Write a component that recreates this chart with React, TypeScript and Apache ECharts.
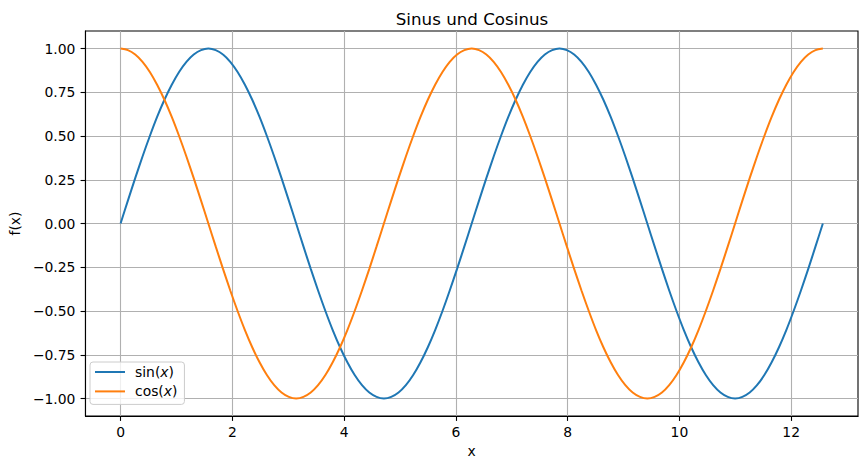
import { useEffect, useRef } from "react";
import * as echarts from "echarts";

// sample positions (0 .. 4π)
const xs = [
  0.0, 0.131, 0.262, 0.393, 0.524, 0.654, 0.785, 0.916, 1.047, 1.178, 1.309, 1.44, 1.571,
  1.702, 1.833, 1.963, 2.094, 2.225, 2.356, 2.487, 2.618, 2.749, 2.88, 3.011, 3.142,
  3.272, 3.403, 3.534, 3.665, 3.796, 3.927, 4.058, 4.189, 4.32, 4.451, 4.581, 4.712,
  4.843, 4.974, 5.105, 5.236, 5.367, 5.498, 5.629, 5.76, 5.89, 6.021, 6.152, 6.283,
  6.414, 6.545, 6.676, 6.807, 6.938, 7.069, 7.199, 7.33, 7.461, 7.592, 7.723, 7.854,
  7.985, 8.116, 8.247, 8.378, 8.508, 8.639, 8.77, 8.901, 9.032, 9.163, 9.294, 9.425,
  9.556, 9.687, 9.817, 9.948, 10.079, 10.21, 10.341, 10.472, 10.603, 10.734, 10.865, 10.996,
  11.126, 11.257, 11.388, 11.519, 11.65, 11.781, 11.912, 12.043, 12.174, 12.305, 12.435, 12.566,
];

const sinValues = [
  0, 0.131, 0.259, 0.383, 0.5, 0.609, 0.707, 0.793, 0.866, 0.924, 0.966, 0.991, 1,
  0.991, 0.966, 0.924, 0.866, 0.793, 0.707, 0.609, 0.5, 0.383, 0.259, 0.131, 0,
  -0.131, -0.259, -0.383, -0.5, -0.609, -0.707, -0.793, -0.866, -0.924, -0.966, -0.991, -1,
  -0.991, -0.966, -0.924, -0.866, -0.793, -0.707, -0.609, -0.5, -0.383, -0.259, -0.131, 0,
  0.131, 0.259, 0.383, 0.5, 0.609, 0.707, 0.793, 0.866, 0.924, 0.966, 0.991, 1,
  0.991, 0.966, 0.924, 0.866, 0.793, 0.707, 0.609, 0.5, 0.383, 0.259, 0.131, 0,
  -0.131, -0.259, -0.383, -0.5, -0.609, -0.707, -0.793, -0.866, -0.924, -0.966, -0.991, -1,
  -0.991, -0.966, -0.924, -0.866, -0.793, -0.707, -0.609, -0.5, -0.383, -0.259, -0.131, 0,
];

const cosValues = [
  1, 0.991, 0.966, 0.924, 0.866, 0.793, 0.707, 0.609, 0.5, 0.383, 0.259, 0.131, 0,
  -0.131, -0.259, -0.383, -0.5, -0.609, -0.707, -0.793, -0.866, -0.924, -0.966, -0.991, -1,
  -0.991, -0.966, -0.924, -0.866, -0.793, -0.707, -0.609, -0.5, -0.383, -0.259, -0.131, 0,
  0.131, 0.259, 0.383, 0.5, 0.609, 0.707, 0.793, 0.866, 0.924, 0.966, 0.991, 1,
  0.991, 0.966, 0.924, 0.866, 0.793, 0.707, 0.609, 0.5, 0.383, 0.259, 0.131, 0,
  -0.131, -0.259, -0.383, -0.5, -0.609, -0.707, -0.793, -0.866, -0.924, -0.966, -0.991, -1,
  -0.991, -0.966, -0.924, -0.866, -0.793, -0.707, -0.609, -0.5, -0.383, -0.259, -0.131, 0,
  0.131, 0.259, 0.383, 0.5, 0.609, 0.707, 0.793, 0.866, 0.924, 0.966, 0.991, 1,
];

const xTicks = [0, 2, 4, 6, 8, 10, 12];
const yTicks = [-1, -0.75, -0.5, -0.25, 0, 0.25, 0.5, 0.75, 1];

const FONT = "DejaVu Sans";
const FS = 13.9;

export default function App() {
  const chartRef = useRef<HTMLDivElement>(null);

  useEffect(() => {
    if (!chartRef.current) return;
    const chart = echarts.init(chartRef.current, null, { renderer: "svg" });

    const axisCommon = {
      axisLine: { show: true, onZero: false, lineStyle: { color: "#000", width: 1.1 } },
      axisTick: { show: true, inside: false, length: 4.9, lineStyle: { color: "#000", width: 1.1 } },
      splitLine: { show: true, lineStyle: { color: "#b0b0b0", width: 1.1 } },
      nameTextStyle: { color: "#000", fontFamily: FONT, fontSize: FS },
    };

    chart.setOption({
      animation: false,
      backgroundColor: "#fff",
      title: {
        text: "Sinus und Cosinus",
        left: 467,
        top: 5,
        textAlign: "center",
        textStyle: { color: "#000", fontFamily: FONT, fontSize: 16.7, fontWeight: "normal" },
      },
      grid: {
        left: 83,
        top: 31,
        width: 775,
        height: 385,
        show: true,
        borderColor: "#000",
        borderWidth: 1.1,
        backgroundColor: "transparent",
      },
      legend: {
        orient: "vertical",
        left: 90,
        top: 362,
        padding: [3, 7, 6, 4],
        itemWidth: 30,
        itemHeight: 16,
        itemGap: 5.4,
        backgroundColor: "rgba(255,255,255,0.8)",
        borderColor: "#cccccc",
        borderWidth: 1,
        borderRadius: 3,
        itemStyle: { opacity: 0 },
        formatter: (name: string) => `{n|${name}(}{i|x}{n|)}`,
        textStyle: {
          color: "#000",
          fontFamily: FONT,
          fontSize: FS,
          padding: [0, 0, 0, 5],
          rich: {
            n: { fontFamily: FONT, fontSize: FS, color: "#000", lineHeight: 16 },
            i: { fontFamily: FONT, fontSize: FS, fontStyle: "italic", color: "#000", lineHeight: 16 },
          },
        },
        data: ["sin", "cos"],
      },
      xAxis: {
        type: "value",
        min: -0.628,
        max: 13.195,
        name: "x",
        nameLocation: "middle",
        nameGap: 27,
        ...axisCommon,
        axisTick: { ...axisCommon.axisTick, customValues: xTicks },
        axisLabel: {
          customValues: xTicks,
          margin: 9,
          color: "#000",
          fontFamily: FONT,
          fontSize: FS,
        },
      },
      yAxis: {
        type: "value",
        min: -1.1,
        max: 1.1,
        name: "f(x)",
        nameLocation: "middle",
        nameGap: 60,
        nameRotate: 90,
        ...axisCommon,
        axisTick: { ...axisCommon.axisTick, customValues: yTicks },
        axisLabel: {
          customValues: yTicks,
          margin: 10,
          color: "#000",
          fontFamily: FONT,
          fontSize: FS,
          formatter: (v: number) => v.toFixed(2).replace("-", "\u2212"),
        },
      },
      series: [
        {
          name: "sin",
          type: "line",
          data: xs.map((x, i) => [x, sinValues[i]]),
          showSymbol: false,
          symbol: "none",
          smooth: 0.3,
          lineStyle: { color: "#1f77b4", width: 2 },
          itemStyle: { color: "#1f77b4" },
        },
        {
          name: "cos",
          type: "line",
          data: xs.map((x, i) => [x, cosValues[i]]),
          showSymbol: false,
          symbol: "none",
          smooth: 0.3,
          lineStyle: { color: "#ff7f0e", width: 2 },
          itemStyle: { color: "#ff7f0e" },
        },
      ],
    });

    return () => chart.dispose();
  }, []);

  return (
    <div
      ref={chartRef}
      style={{ position: "fixed", left: 0, top: 0, width: 867, height: 469 }}
    />
  );
}
